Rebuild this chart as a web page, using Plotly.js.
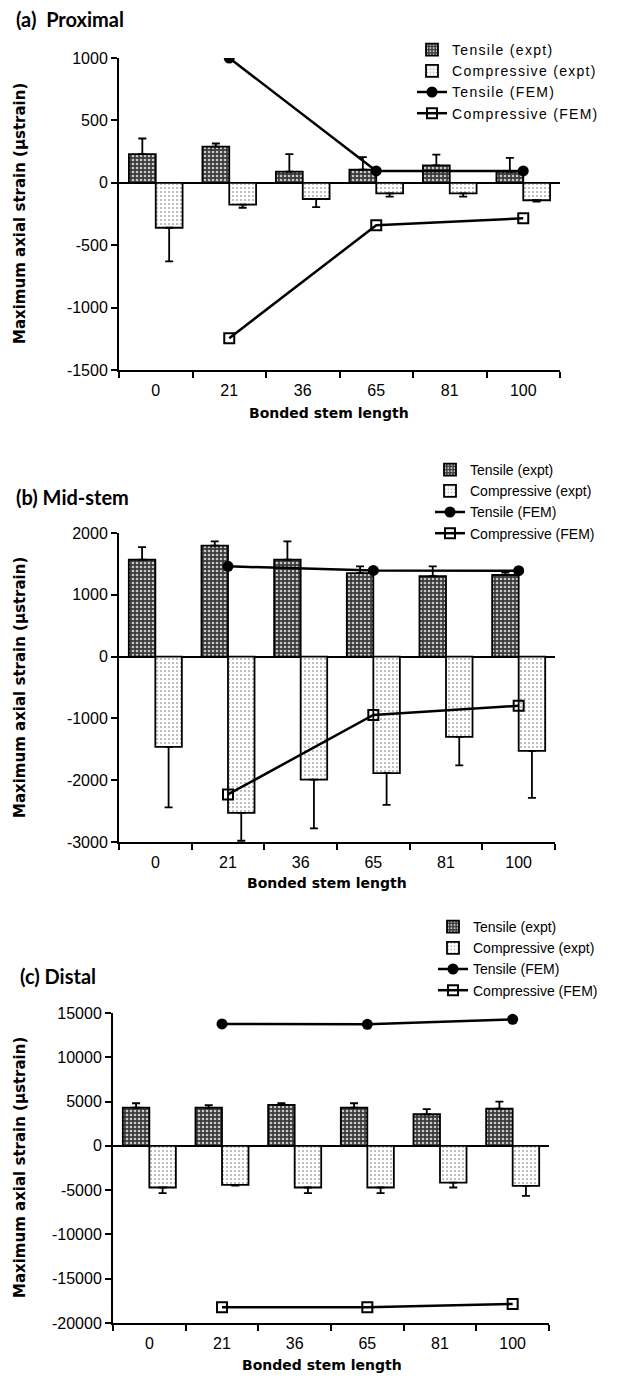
<!DOCTYPE html>
<html>
<head>
<meta charset="utf-8">
<script src="https://cdn.plot.ly/plotly-3.0.1.min.js"></script>
<style>
html,body{margin:0;padding:0;background:#fff;}
#chart{width:638px;height:1378px;}
.legendtext{letter-spacing:1.3px !important;}
</style>
</head>
<body>
<div id="chart"></div>
<script>
// ---- Data ----
const categories = ['0', '21', '36', '65', '81', '100'];
const femCategories = ['21', '65', '100'];

// (a) Proximal
const tensileExptA = [230, 290, 90, 105, 140, 90];
const tensileErrA  = [125, 25, 140, 100, 85, 110];
const compExptA    = [-360, -175, -130, -85, -85, -140];
const compErrA     = [270, 25, 65, 25, 25, 10];
const tensileFemA  = [1000, 95, 95];
const compFemA     = [-1245, -340, -285];
const yTicksA      = [-1500, -1000, -500, 0, 500, 1000];
const yTickTextA   = ['-1500', '-1000', '-500', '0', '500', '1000'];

// (b) Mid-stem
const tensileExptB = [1570, 1795, 1570, 1350, 1300, 1320];
const tensileErrB  = [200, 70, 295, 110, 160, 40];
const compExptB    = [-1460, -2530, -1990, -1885, -1300, -1525];
const compErrB     = [980, 450, 790, 515, 460, 760];
const tensileFemB  = [1460, 1395, 1390];
const compFemB     = [-2230, -945, -795];
const yTicksB      = [-3000, -2000, -1000, 0, 1000, 2000];
const yTickTextB   = ['-3000', '-2000', '-1000', '0', '1000', '2000'];

// (c) Distal
const tensileExptC = [4320, 4320, 4620, 4320, 3570, 4210];
const tensileErrC  = [490, 270, 190, 490, 570, 790];
const compExptC    = [-4700, -4400, -4700, -4700, -4140, -4510];
const compErrC     = [640, 100, 640, 640, 560, 1130];
const tensileFemC  = [13760, 13720, 14290];
const compFemC     = [-18230, -18230, -17850];
const yTicksC      = [-20000, -15000, -10000, -5000, 0, 5000, 10000, 15000];
const yTickTextC   = ['-20000', '-15000', '-10000', '-5000', '0', '5000', '10000', '15000'];

const panelTitles = ['(a)  Proximal', '(b) Mid-stem', '(c) Distal'];
const legendNames = ['Tensile (expt)', 'Compressive (expt)', 'Tensile (FEM)', 'Compressive (FEM)'];
const xTitle = 'Bonded stem length';
const yTitle = 'Maximum axial strain (µstrain)';

// ---- Helpers ----
const W = 638, H = 1378;
const fx = px => px / W;
const fy = py => 1 - py / H;
const zeros = n => new Array(n).fill(0);

function panelTraces(tE, tErr, cE, cErr, tF, cF, xa, ya, leg) {
  return [
    {
      type: 'bar', name: legendNames[0], x: categories, y: tE, xaxis: xa, yaxis: ya, legend: leg,
      marker: {color: '#555', line: {color: '#000', width: 1.8},
               pattern: {shape: '.', bgcolor: '#3a3a3a', fgcolor: '#c8c8c8', size: 4, solidity: 0.35, fillmode: 'replace'}},
      error_y: {type: 'data', symmetric: false, array: tErr, arrayminus: zeros(tErr.length), color: '#000', thickness: 1.8, width: 4}
    },
    {
      type: 'bar', name: legendNames[1], x: categories, y: cE, xaxis: xa, yaxis: ya, legend: leg,
      marker: {color: '#fff', line: {color: '#000', width: 1.8},
               pattern: {shape: '.', bgcolor: '#ffffff', fgcolor: '#a8a8a8', size: 4, solidity: 0.2, fillmode: 'replace'}},
      error_y: {type: 'data', symmetric: false, array: zeros(cErr.length), arrayminus: cErr, color: '#000', thickness: 1.8, width: 4}
    },
    {
      type: 'scatter', mode: 'lines+markers', name: legendNames[2], x: femCategories, y: tF, xaxis: xa, yaxis: ya, legend: leg,
      line: {color: '#000', width: 2.5}, marker: {symbol: 'circle', size: 11, color: '#000'}
    },
    {
      type: 'scatter', mode: 'lines+markers', name: legendNames[3], x: femCategories, y: cF, xaxis: xa, yaxis: ya, legend: leg,
      line: {color: '#000', width: 2.5}, marker: {symbol: 'square-open', size: 10, color: '#000', line: {width: 2, color: '#000'}}
    }
  ];
}

const data = [
  ...panelTraces(tensileExptA, tensileErrA, compExptA, compErrA, tensileFemA, compFemA, 'x', 'y', 'legend'),
  ...panelTraces(tensileExptB, tensileErrB, compExptB, compErrB, tensileFemB, compFemB, 'x2', 'y2', 'legend2'),
  ...panelTraces(tensileExptC, tensileErrC, compExptC, compErrC, tensileFemC, compFemC, 'x3', 'y3', 'legend3')
];

const tickFont = {family: 'Liberation Sans, Arial, sans-serif', size: 16, color: '#000'};
function xaxisDef(x0, x1, anchor) {
  return {
    domain: [fx(x0), fx(x1)], anchor: anchor, type: 'category', categoryorder: 'array', categoryarray: categories,
    range: [-0.5, 5.5], showline: true, linecolor: '#000', linewidth: 2,
    ticks: 'outside', tickson: 'boundaries', ticklen: 6, tickwidth: 2, tickcolor: '#000',
    ticklabelstandoff: 5,
    showgrid: false, zeroline: false, tickfont: tickFont, fixedrange: true
  };
}
// overlay axis giving the inner half of the crossing tick marks
function xaxisInner(x0, x1, anchor, over) {
  return {
    domain: [fx(x0), fx(x1)], anchor: anchor, overlaying: over, type: 'category', categoryorder: 'array', categoryarray: categories,
    range: [-0.5, 5.5], showline: false, ticks: 'inside', tickson: 'boundaries', ticklen: 5, tickwidth: 2, tickcolor: '#000',
    showticklabels: false, showgrid: false, zeroline: false, fixedrange: true
  };
}
function yaxisDef(top, bottom, anchor, range, tv, tt) {
  return {
    domain: [fy(bottom), fy(top)], anchor: anchor, range: range, tickmode: 'array', tickvals: tv, ticktext: tt,
    showline: true, linecolor: '#000', linewidth: 2,
    ticks: 'outside', ticklen: 6, tickwidth: 2, tickcolor: '#000',
    showgrid: false, zeroline: true, zerolinecolor: '#000', zerolinewidth: 2,
    tickfont: tickFont, fixedrange: true
  };
}
function yaxisInner(top, bottom, anchor, over, range, tv) {
  return {
    domain: [fy(bottom), fy(top)], anchor: anchor, overlaying: over, side: 'left', range: range, tickmode: 'array', tickvals: tv,
    showline: false, ticks: 'inside', ticklen: 5, tickwidth: 2, tickcolor: '#000',
    showticklabels: false, showgrid: false, zeroline: false, fixedrange: true
  };
}
const legendFont = {family: 'Liberation Sans, Arial, sans-serif', size: 14, color: '#000'};
function legendDef(left, top) {
  return {x: fx(left), y: fy(top), xanchor: 'left', yanchor: 'top', bgcolor: 'rgba(0,0,0,0)',
          font: legendFont, tracegroupgap: 0, itemwidth: 30, traceorder: 'normal'};
}

const titleFont = {family: 'Lato, Open Sans, sans-serif', size: 20, color: '#000', weight: 'bold'};
const axTitleFont = {family: 'DejaVu Sans, sans-serif', size: 14, color: '#000', weight: 'bold'};
const yTitleFont = {family: 'DejaVu Sans, sans-serif', size: 15, color: '#000', weight: 'bold'};

const ann = (text, x, y, font, extra) => Object.assign({text: text, x: fx(x), y: fy(y), xref: 'paper', yref: 'paper',
  xanchor: 'center', yanchor: 'middle', showarrow: false, font: font}, extra || {});

const annotations = [
  ann(panelTitles[0], 14, 19, titleFont, {xanchor: 'left'}),
  ann(panelTitles[1], 14, 497, titleFont, {xanchor: 'left'}),
  ann(panelTitles[2], 18, 976, titleFont, {xanchor: 'left'}),
  ann(xTitle, 329, 413, axTitleFont),
  ann(xTitle, 327, 883, axTitleFont),
  ann(xTitle, 322, 1365, axTitleFont),
  ann(yTitle, 20, 214, yTitleFont, {textangle: -90}),
  ann(yTitle, 20, 688, yTitleFont, {textangle: -90}),
  ann(yTitle, 20, 1168, yTitleFont, {textangle: -90})
];

const A = {x0: 119, x1: 560, top: 58, bottom: 370, range: [-1500, 1000]};
const B = {x0: 119, x1: 555, top: 533, bottom: 842, range: [-3000, 2000]};
const C = {x0: 113, x1: 549, top: 1013, bottom: 1323, range: [-20000, 15000]};

const layout = {
  width: W, height: H, margin: {l: 0, r: 0, t: 0, b: 0},
  paper_bgcolor: '#fff', plot_bgcolor: 'rgba(0,0,0,0)',
  barmode: 'group', bargap: 0.27, bargroupgap: 0,
  showlegend: true,
  xaxis: xaxisDef(A.x0, A.x1, 'y'),
  yaxis: yaxisDef(A.top, A.bottom, 'x', A.range, yTicksA, yTickTextA),
  xaxis2: xaxisDef(B.x0, B.x1, 'y2'),
  yaxis2: yaxisDef(B.top, B.bottom, 'x2', B.range, yTicksB, yTickTextB),
  xaxis3: xaxisDef(C.x0, C.x1, 'y3'),
  yaxis3: yaxisDef(C.top, C.bottom, 'x3', C.range, yTicksC, yTickTextC),
  xaxis4: xaxisInner(A.x0, A.x1, 'y', 'x'),
  yaxis4: yaxisInner(A.top, A.bottom, 'x', 'y', A.range, yTicksA),
  xaxis5: xaxisInner(B.x0, B.x1, 'y2', 'x2'),
  yaxis5: yaxisInner(B.top, B.bottom, 'x2', 'y2', B.range, yTicksB),
  xaxis6: xaxisInner(C.x0, C.x1, 'y3', 'x3'),
  yaxis6: yaxisInner(C.top, C.bottom, 'x3', 'y3', C.range, yTicksC),
  legend: legendDef(412, 34),
  legend2: legendDef(430, 454),
  legend3: legendDef(433, 911),
  annotations: annotations
};

Plotly.newPlot('chart', data, layout, {displayModeBar: false, staticPlot: true});
</script>
</body>
</html>
